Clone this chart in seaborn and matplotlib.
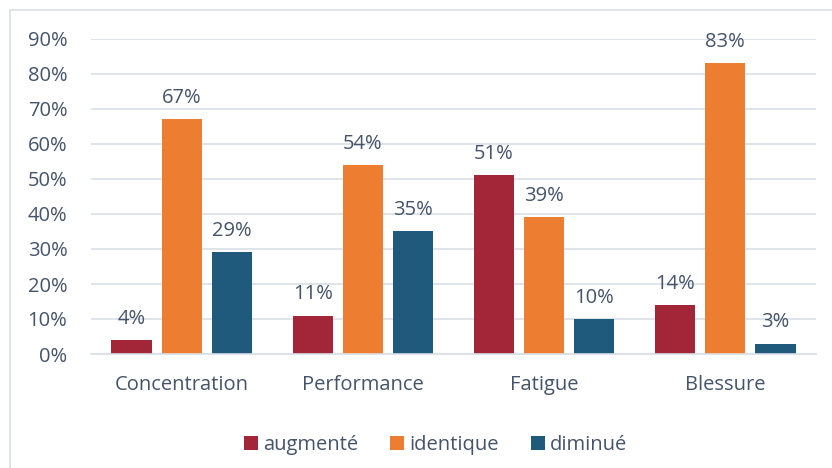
import pandas as pd
import matplotlib.pyplot as plt
import seaborn as sns
from matplotlib.patches import Rectangle
from matplotlib.ticker import PercentFormatter

categories = ["Concentration", "Performance", "Fatigue", "Blessure"]
augmente = [4, 11, 51, 14]
identique = [67, 54, 39, 83]
diminue = [29, 35, 10, 3]
series = ["augmenté", "identique", "diminué"]
colors = ["#A32638", "#ED7D31", "#1F5A7D"]
text_col = "#44546A"

df = pd.DataFrame({
    "cat": categories * 3,
    "serie": [s for s in series for _ in categories],
    "val": augmente + identique + diminue,
})

sns.set_style("white")
plt.rcParams["font.family"] = ["Open Sans", "DejaVu Sans"]
fs = 14.5

fig = plt.figure(figsize=(8.32, 4.68), dpi=100)
ax = fig.add_axes([91 / 832, 1 - 354 / 468, (816 - 91) / 832, (354 - 39) / 468])

sns.barplot(data=df, x="cat", y="val", hue="serie", palette=colors,
            width=0.83, gap=0.2, saturation=1, linewidth=0, ax=ax)

for cont in ax.containers:
    ax.bar_label(cont, labels=[f"{v:.0f}%" for v in cont.datavalues],
                 padding=8, fontsize=fs, color=text_col)

ax.set_ylim(0, 90)
ax.set_xlim(-0.5, 3.5)
ax.set_yticks(range(0, 91, 10))
ax.yaxis.set_major_formatter(PercentFormatter(decimals=0))
ax.grid(axis="y", color="#D9DEE6", linewidth=1.2)
ax.set_axisbelow(True)
for s in ["top", "right", "left"]:
    ax.spines[s].set_visible(False)
ax.spines["bottom"].set_color("#D9DEE6")
ax.spines["bottom"].set_linewidth(1.2)
ax.tick_params(axis="y", labelsize=fs, colors=text_col, length=0, pad=17)
ax.tick_params(axis="x", labelsize=fs, colors=text_col, length=0, pad=15)
ax.set_xlabel("")
ax.set_ylabel("")

ax.legend(loc="upper center", bbox_to_anchor=(0.475, -0.2), ncol=3, frameon=False,
          fontsize=fs, labelcolor=text_col, handlelength=0.7, handleheight=0.7,
          handletextpad=0.25, columnspacing=1.6)

fig.patches.append(Rectangle((10 / 832, -0.05), 1.0, 1 - 10 / 468 + 0.05,
                             transform=fig.transFigure, fill=False,
                             edgecolor="#D9DEE6", linewidth=1.2))

fig.savefig("out.png", dpi=100)
